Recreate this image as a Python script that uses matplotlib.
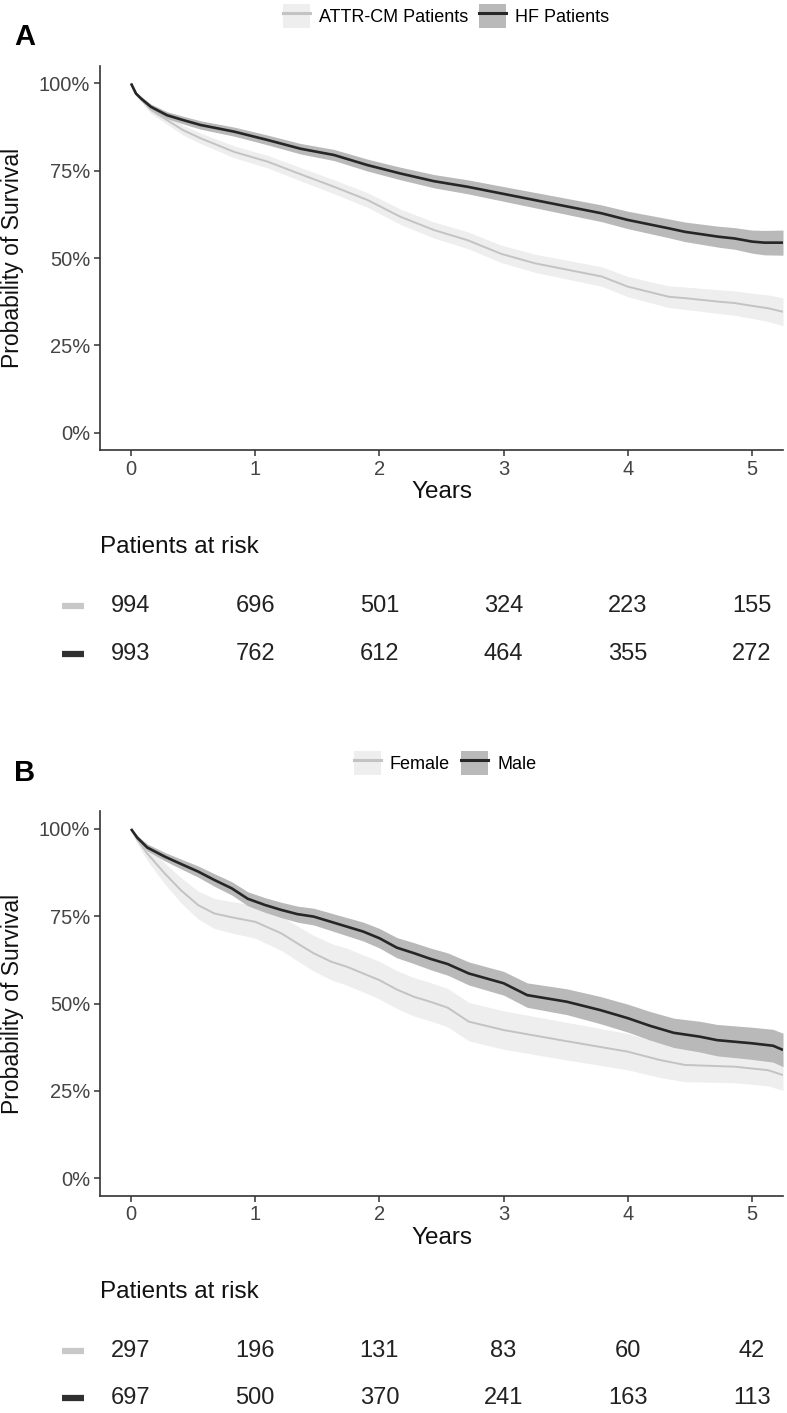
import matplotlib
matplotlib.use("Agg")
import matplotlib.pyplot as plt
from matplotlib.patches import Patch
from matplotlib.lines import Line2D
from matplotlib.transforms import blended_transform_factory
import numpy as np

plt.rcParams['font.family'] = ['Liberation Sans', 'DejaVu Sans']

# ---------------- Data: Panel A ----------------
a_hf_t = [0, 0.04, 0.08, 0.16, 0.29, 0.42, 0.56, 0.83, 1.10, 1.365, 1.635, 1.905, 2.17, 2.44,
          2.71, 2.98, 3.25, 3.52, 3.79, 4.0, 4.33, 4.46, 4.73, 4.86, 5.0, 5.1, 5.25]
a_hf_s = [1.0, 0.971, 0.957, 0.933, 0.909, 0.895, 0.881, 0.862, 0.838, 0.813, 0.795, 0.766, 0.742, 0.720,
          0.704, 0.685, 0.666, 0.647, 0.628, 0.609, 0.585, 0.575, 0.561, 0.556, 0.547, 0.544, 0.544]
a_hf_ci = [0.0, 0.004, 0.006, 0.008, 0.010, 0.011, 0.012, 0.013, 0.014, 0.015, 0.016, 0.017, 0.018, 0.019,
           0.020, 0.021, 0.022, 0.023, 0.024, 0.025, 0.027, 0.028, 0.030, 0.031, 0.033, 0.035, 0.036]

a_attr_t = [0, 0.04, 0.08, 0.16, 0.29, 0.42, 0.56, 0.83, 1.10, 1.365, 1.635, 1.905, 2.17, 2.44,
            2.71, 2.98, 3.25, 3.52, 3.79, 4.0, 4.33, 4.46, 4.73, 4.86, 5.0, 5.13, 5.25]
a_attr_s = [1.0, 0.970, 0.955, 0.924, 0.895, 0.866, 0.843, 0.804, 0.776, 0.740, 0.704, 0.666, 0.618, 0.580,
            0.551, 0.512, 0.485, 0.466, 0.447, 0.418, 0.389, 0.385, 0.375, 0.371, 0.363, 0.356, 0.346]
a_attr_ci = [0.0, 0.005, 0.007, 0.010, 0.012, 0.014, 0.015, 0.017, 0.018, 0.019, 0.020, 0.021, 0.022, 0.023,
             0.024, 0.025, 0.026, 0.027, 0.028, 0.029, 0.031, 0.032, 0.034, 0.035, 0.036, 0.038, 0.040]

# ---------------- Data: Panel B ----------------
b_m_t = [0, 0.05, 0.13, 0.27, 0.40, 0.54, 0.67, 0.81, 0.94, 1.08, 1.21, 1.34, 1.47, 1.61, 1.74, 1.87, 2.0,
         2.14, 2.28, 2.41, 2.55, 2.72, 3.0, 3.19, 3.51, 3.78, 4.0, 4.18, 4.37, 4.58, 4.72, 5.0, 5.17, 5.25]
b_m_s = [1.0, 0.975, 0.947, 0.921, 0.900, 0.878, 0.854, 0.830, 0.800, 0.782, 0.768, 0.756, 0.749, 0.734, 0.720,
         0.706, 0.687, 0.660, 0.644, 0.628, 0.613, 0.586, 0.558, 0.524, 0.505, 0.481, 0.458, 0.436, 0.416, 0.405,
         0.395, 0.386, 0.379, 0.367]
b_m_ci = [0.0, 0.006, 0.010, 0.012, 0.014, 0.016, 0.018, 0.019, 0.020, 0.021, 0.022, 0.023, 0.024, 0.025, 0.026,
          0.027, 0.028, 0.029, 0.030, 0.031, 0.032, 0.033, 0.034, 0.035, 0.037, 0.039, 0.040, 0.041, 0.042, 0.044,
          0.045, 0.046, 0.047, 0.048]

b_f_t = [0, 0.05, 0.13, 0.27, 0.40, 0.54, 0.67, 0.81, 1.0, 1.21, 1.34, 1.47, 1.61, 1.74, 1.87, 2.0, 2.14,
         2.28, 2.41, 2.55, 2.72, 3.0, 3.46, 4.0, 4.26, 4.46, 4.86, 5.13, 5.25]
b_f_s = [1.0, 0.970, 0.930, 0.873, 0.825, 0.782, 0.758, 0.747, 0.734, 0.701, 0.672, 0.644, 0.620, 0.605, 0.586,
         0.567, 0.540, 0.519, 0.505, 0.488, 0.448, 0.424, 0.395, 0.362, 0.338, 0.324, 0.319, 0.309, 0.295]
b_f_ci = [0.0, 0.012, 0.020, 0.030, 0.036, 0.040, 0.043, 0.045, 0.047, 0.049, 0.050, 0.051, 0.052, 0.053, 0.053,
          0.054, 0.054, 0.055, 0.055, 0.055, 0.055, 0.055, 0.054, 0.052, 0.050, 0.048, 0.046, 0.045, 0.044]

risk_times = [0, 1, 2, 3, 4, 5]
a_risk_attr = [994, 696, 501, 324, 223, 155]
a_risk_hf = [993, 762, 612, 464, 355, 272]
b_risk_female = [297, 196, 131, 83, 60, 42]
b_risk_male = [697, 500, 370, 241, 163, 113]

a_labels = ["ATTR-CM Patients", "HF Patients"]
b_labels = ["Female", "Male"]
y_ticks = [0, 0.25, 0.5, 0.75, 1.0]
y_ticklabels = ["0%", "25%", "50%", "75%", "100%"]
x_ticks = [0, 1, 2, 3, 4, 5]

# ---------------- Styling ----------------
W, H = 787, 1413
fig = plt.figure(figsize=(W / 100, H / 100), dpi=100)

LIGHT_LINE = "#c3c3c3"
LIGHT_BAND = "#eeeeee"
DARK_LINE = "#262626"
DARK_BAND = "#b9b9b9"
TICK_COL = "#444444"
AX_COL = "#333333"


def px_axes(x0, y0, x1, y1):
    return fig.add_axes([x0 / W, 1 - y1 / H, (x1 - x0) / W, (y1 - y0) / H])


def draw_panel(top, bottom, light, dark, labels, risk_light, risk_dark, letter, letter_y,
               legend_y, legend_x, risk_title_y, row1_y, row2_y):
    ax = px_axes(100, top, 783, bottom)
    lt, ls, lc = light
    dt, ds, dc = dark
    lt, ls, lc = np.array(lt), np.array(ls), np.array(lc)
    dt, ds, dc = np.array(dt), np.array(ds), np.array(dc)
    ax.fill_between(lt, ls - lc, np.minimum(ls + lc, 1.0), color=LIGHT_BAND, lw=0, zorder=1)
    ax.fill_between(dt, ds - dc, np.minimum(ds + dc, 1.0), color=DARK_BAND, lw=0, zorder=2)
    ax.plot(lt, ls, color=LIGHT_LINE, lw=1.4, zorder=3, solid_capstyle='butt')
    ax.plot(dt, ds, color=DARK_LINE, lw=1.9, zorder=4, solid_capstyle='butt')
    ax.set_xlim(-0.25, 5.25)
    ax.set_ylim(-0.05, 1.05)
    ax.set_yticks(y_ticks)
    ax.set_yticklabels(y_ticklabels)
    ax.set_xticks(x_ticks)
    ax.set_xticklabels([str(v) for v in x_ticks])
    for s in ["top", "right"]:
        ax.spines[s].set_visible(False)
    for s in ["left", "bottom"]:
        ax.spines[s].set_color(AX_COL)
        ax.spines[s].set_linewidth(1.2)
    ax.tick_params(axis="both", colors=AX_COL, labelcolor=TICK_COL, labelsize=14.5,
                   length=4, width=1.1, pad=3)
    ax.set_xlabel("Years", fontsize=17.5, color="#111111", labelpad=2)

    mid_y = (top + bottom) / 2
    fig.text(13 / W, 1 - mid_y / H, "Probability of Survival", fontsize=16.5, color="#111111",
             rotation=90, ha="center", va="center")

    fig.text(25 / W, 1 - letter_y / H, letter, fontsize=21, fontweight="bold",
             ha="center", va="center", color="black")

    h1 = (Patch(facecolor=LIGHT_BAND, edgecolor="none"), Line2D([], [], color=LIGHT_LINE, lw=2.2))
    h2 = (Patch(facecolor=DARK_BAND, edgecolor="none"), Line2D([], [], color=DARK_LINE, lw=2.2))
    fig.legend([h1, h2], labels, loc="center", bbox_to_anchor=(legend_x / W, 1 - legend_y / H),
               ncol=2, frameon=False, fontsize=13, handlelength=1.5, handleheight=1.7,
               handletextpad=0.5, columnspacing=0.6, borderaxespad=0, borderpad=0)

    tr = blended_transform_factory(ax.transData, fig.transFigure)
    fig.text(100 / W, 1 - risk_title_y / H, "Patients at risk", fontsize=17.5,
             ha="left", va="center", color="#111111")
    for t, v in zip(risk_times, risk_light):
        fig.text(t, 1 - row1_y / H, str(v), transform=tr, fontsize=17, ha="center",
                 va="center", color="#222222")
    for t, v in zip(risk_times, risk_dark):
        fig.text(t, 1 - row2_y / H, str(v), transform=tr, fontsize=17, ha="center",
                 va="center", color="#222222")
    fig.add_artist(Line2D([62 / W, 84 / W], [1 - row1_y / H, 1 - row1_y / H],
                          color="#c8c8c8", lw=4.5, solid_capstyle="butt"))
    fig.add_artist(Line2D([62 / W, 84 / W], [1 - row2_y / H, 1 - row2_y / H],
                          color="#303030", lw=4.5, solid_capstyle="butt"))
    return ax


draw_panel(66, 450, (a_attr_t, a_attr_s, a_attr_ci), (a_hf_t, a_hf_s, a_hf_ci), a_labels,
           a_risk_attr, a_risk_hf, "A", 37, 16, 446, 547, 606, 654)
draw_panel(811.5, 1195.5, (b_f_t, b_f_s, b_f_ci), (b_m_t, b_m_s, b_m_ci), b_labels,
           b_risk_female, b_risk_male, "B", 773, 763, 445, 1292, 1351, 1398)

fig.savefig("out.png", dpi=100, facecolor="white")
